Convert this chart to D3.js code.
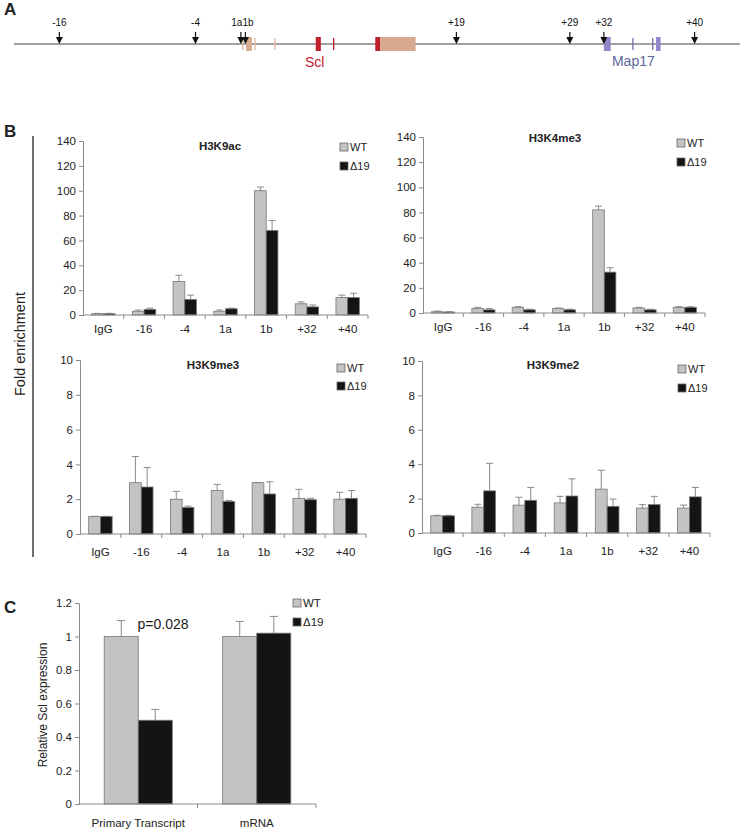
<!DOCTYPE html>
<html><head><meta charset="utf-8">
<script src="https://cdn.jsdelivr.net/npm/d3@7"></script>
<style>body{margin:0;background:#fff}svg{display:block;font-family:"Liberation Sans",Arial,sans-serif}</style>
</head><body><svg id="c" width="740" height="830"></svg>
<script>
// ---------- DATA ----------
// Panel A: probe positions (kb) and gene structures (kb)
const probeLabels = ["-16", "-4", "1a", "1b", "+19", "+29", "+32", "+40"];
const probeKb     = [-16, -4, 0, 0.4, 19, 29, 32, 40];
const sclExonStart = [0.1, 0.45, 1.18, 2.94, 6.6, 8.12, 11.85, 12.3];
const sclExonEnd   = [0.2, 0.97, 1.28, 3.04, 7.05, 8.24, 12.3, 15.4];
const sclExonType  = ["utrLine", "utr", "utrLine", "utrLine", "cds", "cdsLine", "cds", "utr"];
const mapExonStart = [32.0, 34.5, 36.25, 36.6];
const mapExonEnd   = [32.6, 34.6, 36.35, 37.0];
const mapExonType  = ["box", "line", "line", "box"];

// Panel B: ChIP
const chipCategories = ["IgG", "-16", "-4", "1a", "1b", "+32", "+40"];
const seriesNames = ["WT", "Δ19"];
const h3k9acWT     = [1, 3, 27, 3, 100, 9, 14];
const h3k9acWTErr  = [0.3, 1, 5, 1, 3, 1.5, 2];
const h3k9acMut    = [1, 4.5, 12.5, 5, 68, 6.5, 14];
const h3k9acMutErr = [0.3, 1, 3.5, 0.5, 8, 1.5, 3.5];
const h3k4me3WT     = [1, 3.5, 4.5, 3.5, 82, 4, 4.5];
const h3k4me3WTErr  = [0.5, 1, 0.5, 0.5, 3, 0.5, 0.5];
const h3k4me3Mut    = [0.8, 2.5, 2.5, 2.5, 32.5, 2.5, 4.5];
const h3k4me3MutErr = [0.2, 1, 0.5, 0.5, 3.5, 0.5, 0.5];
const h3k9me3WT     = [1.0, 2.95, 2.0, 2.5, 2.95, 2.05, 2.0];
const h3k9me3WTErr  = [0.02, 1.5, 0.45, 0.35, 0.0, 0.52, 0.4];
const h3k9me3Mut    = [1.0, 2.7, 1.52, 1.87, 2.3, 1.97, 2.05];
const h3k9me3MutErr = [0.02, 1.12, 0.08, 0.06, 0.7, 0.08, 0.45];
const h3k9me2WT     = [1.0, 1.5, 1.62, 1.75, 2.55, 1.45, 1.45];
const h3k9me2WTErr  = [0.03, 0.17, 0.46, 0.38, 1.1, 0.2, 0.17];
const h3k9me2Mut    = [1.0, 2.45, 1.9, 2.15, 1.55, 1.65, 2.1];
const h3k9me2MutErr = [0.03, 1.6, 0.75, 1.0, 0.42, 0.48, 0.55];
const ticksTop = [0, 20, 40, 60, 80, 100, 120, 140];
const ticksBottom = [0, 2, 4, 6, 8, 10];

// Panel C: expression
const exprCategories = ["Primary Transcript", "mRNA"];
const exprWT     = [1.0, 1.0];
const exprWTErr  = [0.095, 0.09];
const exprMut    = [0.5, 1.02];
const exprMutErr = [0.065, 0.1];
const exprTicks  = [0, 0.2, 0.4, 0.6, 0.8, 1, 1.2];
const pValueText = "p=0.028";

// ---------- DRAW ----------
const svg = d3.select("#c");
const AX = "#8a8a8a", TXT = "#222";
const WTFILL = "#c3c3c3", MUTFILL = "#141414";

function panelLabel(t, x, y) {
  svg.append("text").attr("x", x).attr("y", y).attr("font-size", 17).attr("font-weight", "bold").attr("fill", "#222").text(t);
}
panelLabel("A", 4, 15);
panelLabel("B", 4, 137);
panelLabel("C", 4, 613);

// Panel A
const gx = d3.scaleLinear().domain([-20, 44]).range([14, 740]);
const lineY = 44;
svg.append("line").attr("x1", gx(-20)).attr("x2", gx(44)).attr("y1", lineY).attr("y2", lineY).attr("stroke", "#444").attr("stroke-width", 1.2);
const sclCol = {utr: "#d9aa92", utrLine: "#e2b5a2", cds: "#c0202a", cdsLine: "#c0202a"};
sclExonStart.forEach((s, i) => {
  const t = sclExonType[i];
  const isLine = t.endsWith("Line");
  svg.append("rect").attr("x", gx(s)).attr("width", Math.max(1.3, gx(sclExonEnd[i]) - gx(s)))
    .attr("y", isLine ? 38 : 37).attr("height", isLine ? 12 : 14).attr("fill", sclCol[t]);
});
mapExonStart.forEach((s, i) => {
  const isLine = mapExonType[i] === "line";
  svg.append("rect").attr("x", gx(s)).attr("width", Math.max(1.3, gx(mapExonEnd[i]) - gx(s)))
    .attr("y", isLine ? 38 : 37).attr("height", isLine ? 12 : 14).attr("fill", isLine ? "#6f72a8" : "#8f88c8");
});
svg.append("text").attr("x", gx(6.5)).attr("y", 67).attr("text-anchor", "middle").attr("font-size", 14).attr("fill", "#c0202a").text("Scl");
svg.append("text").attr("x", gx(34.6)).attr("y", 66).attr("text-anchor", "middle").attr("font-size", 14).attr("fill", "#5b679c").text("Map17");
probeKb.forEach((k, i) => {
  const x = gx(k);
  svg.append("line").attr("x1", x).attr("x2", x).attr("y1", 32).attr("y2", 38).attr("stroke", "#111").attr("stroke-width", 1.2);
  svg.append("path").attr("d", `M${x - 3.5},37 L${x + 3.5},37 L${x},44 Z`).attr("fill", "#111");
  const lab = probeLabels[i];
  const anchor = lab === "1a" ? "end" : (lab === "1b" ? "start" : "middle");
  const lx = lab === "1a" ? x + 1.5 : (lab === "1b" ? x - 3 : x);
  svg.append("text").attr("x", lx).attr("y", 26).attr("text-anchor", anchor).attr("font-size", 10).attr("fill", "#111").text(lab);
});

// Panel B frame
svg.append("line").attr("x1", 33).attr("x2", 33).attr("y1", 136).attr("y2", 557).attr("stroke", "#222").attr("stroke-width", 1.3);
svg.append("text").attr("transform", "translate(25,344) rotate(-90)").attr("text-anchor", "middle").attr("font-size", 14.5).attr("fill", "#222").text("Fold enrichment");

function barChart(o) {
  const g = svg.append("g");
  const x = d3.scaleBand().domain(o.cats).range([o.x0, o.x1]);
  const xs = d3.scaleBand().domain(seriesNames).range([0, x.bandwidth()]).paddingOuter(0.74);
  const y = d3.scaleLinear().domain([0, o.max]).range([o.yb, o.yt]);
  const rows = o.cats.map((c, i) => [
    {c, s: seriesNames[0], v: o.wt[i], e: o.wtErr[i]},
    {c, s: seriesNames[1], v: o.mut[i], e: o.mutErr[i]}]).flat();
  // error bars (behind bars)
  rows.forEach(d => {
    const cx = x(d.c) + xs(d.s) + xs.bandwidth() / 2;
    g.append("line").attr("x1", cx).attr("x2", cx).attr("y1", y(d.v)).attr("y2", y(d.v + d.e)).attr("stroke", AX).attr("stroke-width", 1);
    g.append("line").attr("x1", cx - o.cap).attr("x2", cx + o.cap).attr("y1", y(d.v + d.e)).attr("y2", y(d.v + d.e)).attr("stroke", AX).attr("stroke-width", 1);
  });
  g.selectAll("rect.bar").data(rows).join("rect").attr("class", "bar")
    .attr("x", d => x(d.c) + xs(d.s)).attr("width", xs.bandwidth())
    .attr("y", d => y(d.v)).attr("height", d => y(0) - y(d.v))
    .attr("fill", d => d.s === "WT" ? WTFILL : MUTFILL).attr("stroke", "#777").attr("stroke-width", 0.8);
  // y axis
  const ya = g.append("g").attr("transform", `translate(${o.x0},0)`)
    .call(d3.axisLeft(y).tickValues(o.ticks).tickSize(4).tickPadding(3).tickFormat(d3.format("~g")));
  ya.select(".domain").attr("stroke", AX);
  ya.selectAll(".tick line").attr("stroke", AX);
  ya.selectAll("text").attr("font-size", o.fs).attr("fill", TXT).attr("font-family", "Liberation Sans, Arial, sans-serif");
  // x axis
  const xa = g.append("g").attr("transform", `translate(0,${o.yb})`);
  xa.append("line").attr("x1", o.x0).attr("x2", o.x1).attr("stroke", AX);
  const bounds = o.cats.map(c => x(c)).concat([o.x1]);
  bounds.slice(1).forEach(b => xa.append("line").attr("x1", b).attr("x2", b).attr("y1", 0).attr("y2", 4).attr("stroke", AX));
  o.cats.forEach(c => xa.append("text").attr("x", x(c) + x.bandwidth() / 2).attr("y", o.xlabDy)
    .attr("text-anchor", "middle").attr("font-size", o.fs).attr("fill", TXT).text(c));
  if (o.title) g.append("text").attr("x", o.tx).attr("y", o.ty).attr("text-anchor", "middle").attr("font-size", 11.5).attr("font-weight", "bold").attr("fill", "#222").text(o.title);
  // legend
  seriesNames.forEach((s, i) => {
    const ly = o.ly[i];
    g.append("rect").attr("x", o.lx).attr("y", ly - 4).attr("width", 8).attr("height", 8)
      .attr("fill", i === 0 ? WTFILL : MUTFILL).attr("stroke", "#666").attr("stroke-width", 0.8);
    g.append("text").attr("x", o.lx + 10).attr("y", ly + 4).attr("font-size", o.lfs).attr("fill", TXT).text(s);
  });
  return {x, y};
}

barChart({cats: chipCategories, x0: 83, x1: 368, yt: 141, yb: 315, max: 140, ticks: ticksTop,
  wt: h3k9acWT, wtErr: h3k9acWTErr, mut: h3k9acMut, mutErr: h3k9acMutErr, cap: 3.5, fs: 11.5, xlabDy: 18,
  title: "H3K9ac", tx: 220, ty: 150, lx: 340, ly: [147, 166], lfs: 11});
barChart({cats: chipCategories, x0: 423, x1: 705, yt: 137, yb: 313, max: 140, ticks: ticksTop,
  wt: h3k4me3WT, wtErr: h3k4me3WTErr, mut: h3k4me3Mut, mutErr: h3k4me3MutErr, cap: 3.5, fs: 11.5, xlabDy: 18,
  title: "H3K4me3", tx: 555, ty: 142, lx: 677, ly: [143, 162], lfs: 11});
barChart({cats: chipCategories, x0: 80, x1: 366, yt: 360, yb: 534, max: 10, ticks: ticksBottom,
  wt: h3k9me3WT, wtErr: h3k9me3WTErr, mut: h3k9me3Mut, mutErr: h3k9me3MutErr, cap: 3.5, fs: 11.5, xlabDy: 22,
  title: "H3K9me3", tx: 213, ty: 369, lx: 337, ly: [368, 386], lfs: 11});
barChart({cats: chipCategories, x0: 422, x1: 710, yt: 361, yb: 533, max: 10, ticks: ticksBottom,
  wt: h3k9me2WT, wtErr: h3k9me2WTErr, mut: h3k9me2Mut, mutErr: h3k9me2MutErr, cap: 3.5, fs: 11.5, xlabDy: 22,
  title: "H3K9me2", tx: 553, ty: 369, lx: 678, ly: [369, 388], lfs: 11});

const pc = barChart({cats: exprCategories, x0: 79, x1: 316, yt: 603, yb: 804, max: 1.2, ticks: exprTicks,
  wt: exprWT, wtErr: exprWTErr, mut: exprMut, mutErr: exprMutErr, cap: 4, fs: 11.5, xlabDy: 23,
  title: null, lx: 293, ly: [603, 622], lfs: 11.5});
svg.append("text").attr("x", 163).attr("y", 629).attr("text-anchor", "middle").attr("font-size", 14).attr("fill", TXT).text(pValueText);
svg.append("text").attr("transform", "translate(47,705) rotate(-90)").attr("text-anchor", "middle").attr("font-size", 12).attr("fill", "#222").text("Relative Scl expression");
</script></body></html>
